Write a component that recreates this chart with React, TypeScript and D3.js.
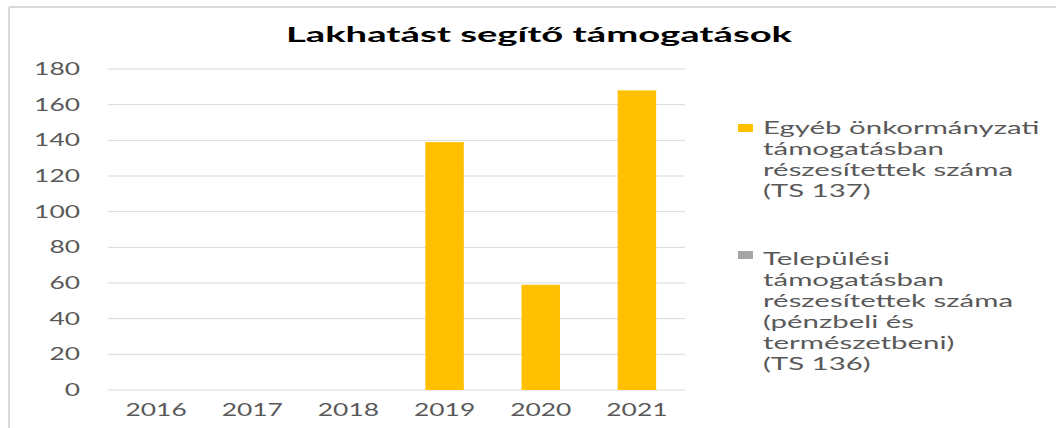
import React from "react";
import * as d3 from "d3";

const years = ["2016", "2017", "2018", "2019", "2020", "2021"];
const egyebValues: (number | null)[] = [null, null, null, 139, 59, 168];
const telepulesiValues: (number | null)[] = [null, null, null, null, null, null];
const yTicks = [0, 20, 40, 60, 80, 100, 120, 140, 160, 180];
const title = "Lakhatást segítő támogatások";
const legend1 = ["Egyéb önkormányzati", "támogatásban", "részesítettek száma", "(TS 137)"];
const legend2 = ["Települési", "támogatásban", "részesítettek száma", "(pénzbeli és", "természetbeni)", "(TS 136)"];

const W = 1056;
const H = 428;
const FONT = "Lato, 'Open Sans', sans-serif";

function SText({ x, y, anchor = "start", size, weight = 400, fill, sx = 1.6, children }: any) {
  return (
    <g transform={`translate(${x},${y}) scale(${sx},1)`}>
      <text textAnchor={anchor} fontSize={size} fontWeight={weight} fill={fill} fontFamily={FONT}>
        {children}
      </text>
    </g>
  );
}

export default function App() {
  const x = d3.scaleBand<string>().domain(years).range([108, 685]).paddingInner(0.6).paddingOuter(0.3);
  const y = d3.scaleLinear().domain([0, 180]).range([390, 69]);
  const legendColors = ["#FFC000", "#A5A5A5"];

  return (
    <svg width={W} height={H} style={{ position: "absolute", left: 0, top: 0, background: "#fff" }}>
      <rect x={0} y={0} width={W} height={H} fill="#fff" />
      <line x1={9} y1={7} x2={W} y2={7} stroke="#d9d9d9" strokeWidth={2} />
      <line x1={9} y1={7} x2={9} y2={H} stroke="#d9d9d9" strokeWidth={2} />

      <SText x={539} y={42} anchor="middle" size={21} weight={700} fill="#000" sx={1.82}>
        {title}
      </SText>

      {yTicks.map((t) => (
        <g key={t}>
          <line x1={108} x2={685} y1={y(t)} y2={y(t)} stroke="#d9d9d9" strokeWidth={1} />
          <SText x={80} y={y(t) + 6} anchor="end" size={16.5} fill="#595959">
            {t}
          </SText>
        </g>
      ))}

      {years.map((yr, i) => {
        const v = egyebValues[i];
        if (v == null) return null;
        return (
          <rect key={yr} x={x(yr)} y={y(v)} width={x.bandwidth()} height={y(0) - y(v)} fill="#FFC000" />
        );
      })}
      {years.map((yr, i) => {
        const v = telepulesiValues[i];
        if (v == null) return null;
        return <rect key={"t" + yr} x={x(yr)} y={y(v)} width={x.bandwidth()} height={y(0) - y(v)} fill="#A5A5A5" />;
      })}

      {years.map((yr) => (
        <SText key={yr} x={(x(yr) as number) + x.bandwidth() / 2} y={416} anchor="middle" size={16.5} fill="#595959">
          {yr}
        </SText>
      ))}

      <rect x={738} y={124} width={15} height={8} fill={legendColors[0]} />
      {legend1.map((l, i) => (
        <SText key={l} x={763} y={134 + i * 21} size={17} fill="#595959" sx={1.73}>
          {l}
        </SText>
      ))}
      <rect x={738} y={251} width={15} height={8} fill={legendColors[1]} />
      {legend2.map((l, i) => (
        <SText key={l} x={763} y={265 + i * 21} size={17} fill="#595959" sx={1.73}>
          {l}
        </SText>
      ))}
    </svg>
  );
}
